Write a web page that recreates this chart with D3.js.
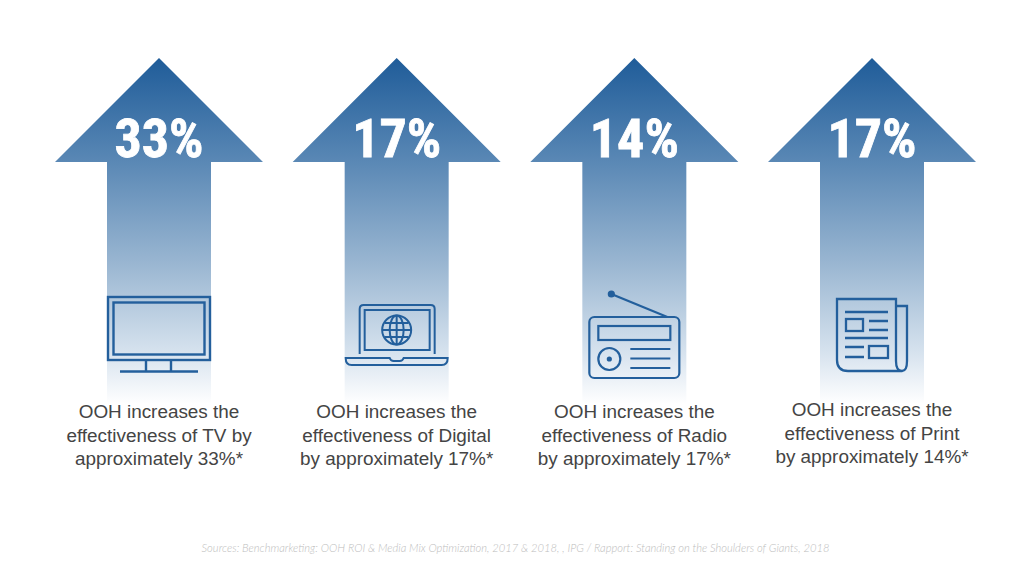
<!DOCTYPE html>
<html><head><meta charset="utf-8">
<script src="https://cdn.jsdelivr.net/npm/d3@7"></script>
<style>html,body{margin:0;padding:0;background:#fff}svg{display:block}</style>
</head><body><svg id="c" width="1031" height="580"></svg>
<script>
const categories = ["TV","Digital","Radio","Print"];
const headlineValues = [33,17,14,17];
const captionValues = [33,17,17,14];
const captionTemplates = [
 ["OOH increases the","effectiveness of TV by","approximately {v}%*"],
 ["OOH increases the","effectiveness of Digital","by approximately {v}%*"],
 ["OOH increases the","effectiveness of Radio","by approximately {v}%*"],
 ["OOH increases the","effectiveness of Print","by approximately {v}%*"]
];
const captionTops = [418,418,418,416];
const sourceNote = "Sources: Benchmarketing: OOH ROI & Media Mix Optimization, 2017 & 2018, , IPG / Rapport: Standing on the Shoulders of Giants, 2018";

const svg = d3.select("#c");
const x = d3.scalePoint().domain(categories).range([159,872]);
const defs = svg.append("defs");
const grad = defs.append("linearGradient").attr("id","g").attr("gradientUnits","userSpaceOnUse")
  .attr("x1",0).attr("x2",0).attr("y1",58).attr("y2",404);
[[0,"#1f5c99"],[0.3,"#5a88b5"],[0.6,"#9bb7d2"],[0.85,"#d6e2ee"],[1,"#ffffff"]].forEach(s=>
  grad.append("stop").attr("offset",s[0]).attr("stop-color",s[1]));

const arrow = d3.line()([[0,58],[104,162],[52,162],[52,404],[-52,404],[-52,162],[-104,162]])+"Z";
const g = svg.selectAll("g.col").data(categories).join("g").attr("class","col")
  .attr("transform",d=>`translate(${x(d)},0)`);
g.append("path").attr("d",arrow).attr("fill","url(#g)");

g.append("text").attr("y",157).attr("text-anchor","middle")
  .attr("font-family","'Liberation Sans Narrow','Roboto Condensed','Liberation Sans',sans-serif")
  .attr("font-weight",700).attr("font-size",54).attr("fill","#fff")
  .attr("stroke","#fff").attr("stroke-width",0.8)
  .text((d,i)=>headlineValues[i]+"%");

g.each(function(d,i){
  const t = d3.select(this).append("text").attr("text-anchor","middle")
    .attr("font-family","'Liberation Sans',Arial,sans-serif").attr("font-size",18.9).attr("fill","#444");
  captionTemplates[i].forEach((l,j)=>t.append("tspan").attr("x",0).attr("y",captionTops[i]+j*23.5)
    .text(l.replace("{v}",captionValues[i])));
});

const ic = g.append("g").attr("fill","none").attr("stroke","#235f9c").attr("stroke-width",2.2);

// TV
const tv = ic.filter(d=>d==="TV").attr("stroke-width",2.4);
tv.append("rect").attr("x",-51).attr("y",297).attr("width",102).attr("height",63);
tv.append("rect").attr("x",-45.5).attr("y",302.5).attr("width",91).attr("height",52);
tv.append("path").attr("d","M-13 360V371M12 360V371M-39 371.500H39");

// Laptop
const lp = ic.filter(d=>d==="Digital").attr("stroke-width",2);
lp.append("path").attr("d","M-37 354V309q0-4 4-4H34q4 0 4 4V354");
lp.append("rect").attr("x",-32).attr("y",310).attr("width",65).attr("height",40);
lp.append("circle").attr("cx",0).attr("cy",330).attr("r",14.500);
lp.append("path").attr("d","M-14.500 330H14.500M-12 323H12M-12 337H12M0 315.500V344.500");
lp.append("ellipse").attr("cx",0).attr("cy",330).attr("rx",7).attr("ry",14.500);
lp.append("path").attr("d","M-51 358H-7q1 3 4 3H3q3 0 4-3H51q0 7-6 7H-45q-6 0-6-7Z");

// Radio
const rd = ic.filter(d=>d==="Radio").attr("stroke-width",2.2);
rd.append("rect").attr("x",-45).attr("y",317).attr("width",90).attr("height",61).attr("rx",5);
rd.append("path").attr("d","M-23 294L33 317");
rd.append("circle").attr("cx",-23).attr("cy",294).attr("r",2.500).attr("fill","#235f9c");
rd.append("rect").attr("x",-36).attr("y",326).attr("width",72).attr("height",14);
rd.append("circle").attr("cx",-25).attr("cy",359).attr("r",11);
rd.append("circle").attr("cx",-25).attr("cy",359).attr("r",1.500).attr("fill","#235f9c");
rd.append("path").attr("d","M-4 349H36M-4 358.500H36M-4 368H36");

// Print
const pr = ic.filter(d=>d==="Print").attr("stroke-width",2.3);
pr.append("path").attr("d","M-35 299H24V361q0 10 6 10H-24q-11 0-11-11Z");
pr.append("path").attr("d","M24 306H35V361q0 10-5 10");
pr.append("path").attr("d","M-27 312H16M-27 338H16M-3 321H16M-3 330H16M-27 347H-8M-27 357H-8");
pr.append("rect").attr("x",-26).attr("y",319).attr("width",17).attr("height",12);
pr.append("rect").attr("x",-3).attr("y",346).attr("width",19).attr("height",12);

svg.append("text").attr("x",515.500).attr("y",552).attr("text-anchor","middle")
  .attr("font-family","Lato,'Open Sans',sans-serif").attr("font-style","italic").attr("font-weight",300)
  .attr("font-size",11.2).attr("fill","#bdbdbd").text(sourceNote);
</script></body></html>
